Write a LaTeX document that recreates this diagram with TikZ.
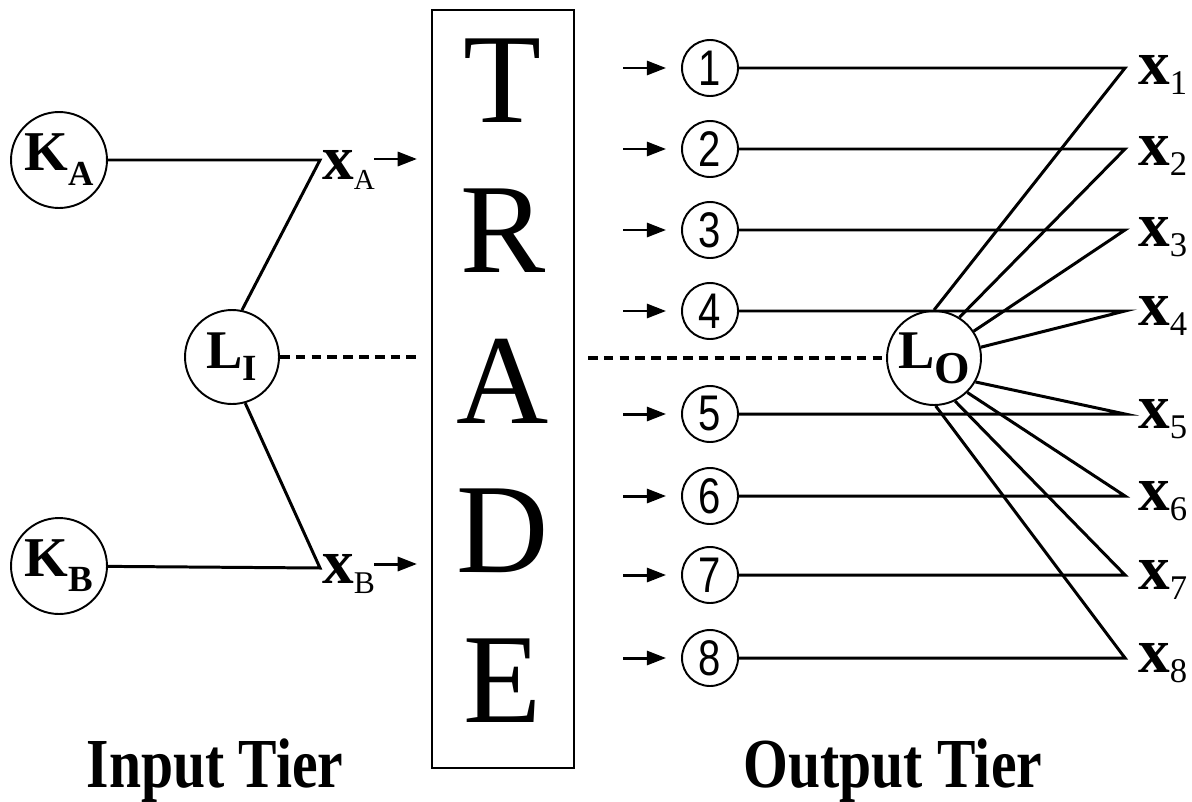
\documentclass[tikz,border=0pt]{standalone}
\usepackage{fontspec}
\setmainfont{Liberation Serif}
\newfontfamily\digitfont{Liberation Sans}
\usetikzlibrary{arrows.meta, positioning}

% lowered subscript: drop, size, text
\newcommand{\lowsub}[3]{\raisebox{-#1}{\fontsize{#2}{#2}\selectfont #3}}

\begin{document}
\begin{tikzpicture}[
  x=0.02cm, y=-0.02cm,
  factor/.style={circle, draw, line width=1.1pt, minimum size=1.92cm, inner sep=0pt, font=\fontsize{32}{34}\selectfont\bfseries},
  labour/.style={circle, draw, line width=1.1pt, minimum size=1.88cm, inner sep=0pt, font=\fontsize{31}{34}\selectfont\bfseries},
  good/.style={circle, draw, line width=1.1pt, minimum size=1.12cm, inner sep=0pt, font=\fontsize{28.5}{30}\digitfont},
  goodlbl/.style={anchor=base west, inner sep=0pt, font=\fontsize{36}{38}\selectfont\bfseries},
  letter/.style={inner sep=0pt, font=\fontsize{72.7}{73}\selectfont},
  tier/.style={anchor=base, inner sep=0pt, font=\fontsize{40}{42}\selectfont\bfseries},
  link/.style={line width=1.7pt},
  dashlink/.style={line width=1.8pt, dash pattern=on 5.5pt off 3.5pt},
  arrow/.style={line width=1.7pt, -{Triangle[length=11pt, width=8pt]}},
]
  \useasboundingbox (0,0) rectangle (1192,801);

  % input tier
  \node[factor] (KA) at (59,160) {K\lowsub{8.5pt}{20}{A}};
  \node[factor] (KB) at (59,566) {K\lowsub{8.5pt}{21}{B}};
  \node[labour] (LI) at (232,357) {L\lowsub{7pt}{21}{I}};
  \coordinate (cA) at (320,160);
  \coordinate (cB) at (320,568);
  \draw[link] (KA) -- (cA) -- (LI.78);
  \draw[link] (KB) -- (cB) -- (LI.-74);

  \node[goodlbl] (xA) at (322,179) {x\lowsub{5.7pt}{16.5}{\mdseries A}};
  \node[goodlbl] (xB) at (322,583) {x\lowsub{5.7pt}{18}{\mdseries B}};
  \coordinate (xAs) at (374,159);
  \coordinate (xAe) at (417,159);
  \coordinate (xBs) at (374,564);
  \coordinate (xBe) at (417,564);
  \draw[arrow] (xAs) -- (xAe);
  \draw[arrow] (xBs) -- (xBe);

  % trade box
  \node[draw, line width=1.3pt, minimum width=2.84cm, minimum height=15.16cm, inner sep=0pt] (trade) at (503,389) {};
  \node[letter] (tT) at (503,81) {T};
  \node[letter] (tR) at (503,231) {R};
  \node[letter] (tA) at (503,381) {A};
  \node[letter] (tD) at (503,531) {D};
  \node[letter] (tE) at (503,681) {E};

  % output tier
  \node[labour] (LO) at (934,358) {L\lowsub{8.5pt}{26}{O}};
  \coordinate (dL) at (417,357);
  \coordinate (dR) at (588,358);
  \draw[dashlink] (LI) -- (dL);
  \draw[dashlink] (dR) -- (LO);

  \node[good] (g1) at (710,68) {\scalebox{0.8}[1]{1}};
  \node[good] (g2) at (710,149) {\scalebox{0.8}[1]{2}};
  \node[good] (g3) at (710,230) {\scalebox{0.8}[1]{3}};
  \node[good] (g4) at (710,311) {\scalebox{0.8}[1]{4}};
  \node[good] (g5) at (710,414) {\scalebox{0.8}[1]{5}};
  \node[good] (g6) at (710,496) {\scalebox{0.8}[1]{6}};
  \node[good] (g7) at (710,575) {\scalebox{0.8}[1]{7}};
  \node[good] (g8) at (710,658) {\scalebox{0.8}[1]{8}};

  \coordinate (a1) at (623,68);
  \coordinate (a2) at (623,149);
  \coordinate (a3) at (623,230);
  \coordinate (a4) at (623,311);
  \coordinate (a5) at (623,414);
  \coordinate (a6) at (623,496);
  \coordinate (a7) at (623,575);
  \coordinate (a8) at (623,658);
  \draw[arrow, shorten >=8.5pt] (a1) -- (g1);
  \draw[arrow, shorten >=8.5pt] (a2) -- (g2);
  \draw[arrow, shorten >=8.5pt] (a3) -- (g3);
  \draw[arrow, shorten >=8.5pt] (a4) -- (g4);
  \draw[arrow, shorten >=8.5pt] (a5) -- (g5);
  \draw[arrow, shorten >=8.5pt] (a6) -- (g6);
  \draw[arrow, shorten >=8.5pt] (a7) -- (g7);
  \draw[arrow, shorten >=8.5pt] (a8) -- (g8);

  \coordinate (t1) at (1125,68);
  \coordinate (t2) at (1125,149);
  \coordinate (t3) at (1125,230);
  \coordinate (t4) at (1125,311);
  \coordinate (t5) at (1125,414);
  \coordinate (t6) at (1125,496);
  \coordinate (t7) at (1125,575);
  \coordinate (t8) at (1125,658);
  \draw[link] (g1) -- (t1) -- (LO.90);
  \draw[link] (g2) -- (t2) -- (LO.58);
  \draw[link] (g3) -- (t3) -- (LO.34);
  \draw[link] (g4) -- (t4) -- (LO.13);
  \draw[link] (g5) -- (t5) -- (LO.-30);
  \draw[link] (g6) -- (t6) -- (LO.-46);
  \draw[link] (g7) -- (t7) -- (LO.-64);
  \draw[link] (g8) -- (t8) -- (LO.-88);

  \node[goodlbl] (x1) at (1138,84) {x\lowsub{5.7pt}{19.7}{\mdseries 1}};
  \node[goodlbl] (x2) at (1138,165) {x\lowsub{5.7pt}{19.7}{\mdseries 2}};
  \node[goodlbl] (x3) at (1138,246) {x\lowsub{5.7pt}{19.7}{\mdseries 3}};
  \node[goodlbl] (x4) at (1138,325) {x\lowsub{5.7pt}{19.7}{\mdseries 4}};
  \node[goodlbl] (x5) at (1138,428) {x\lowsub{5.7pt}{19.7}{\mdseries 5}};
  \node[goodlbl] (x6) at (1138,510) {x\lowsub{5.7pt}{19.7}{\mdseries 6}};
  \node[goodlbl] (x7) at (1138,589) {x\lowsub{5.7pt}{19.7}{\mdseries 7}};
  \node[goodlbl] (x8) at (1138,672) {x\lowsub{5.7pt}{19.7}{\mdseries 8}};

  % tier captions
  \node[tier] (inp) at (215,787) {\scalebox{0.82}[1]{Input Tier}};
  \node[tier] (outp) at (893,787) {\scalebox{0.82}[1]{Output Tier}};
\end{tikzpicture}
\end{document}
